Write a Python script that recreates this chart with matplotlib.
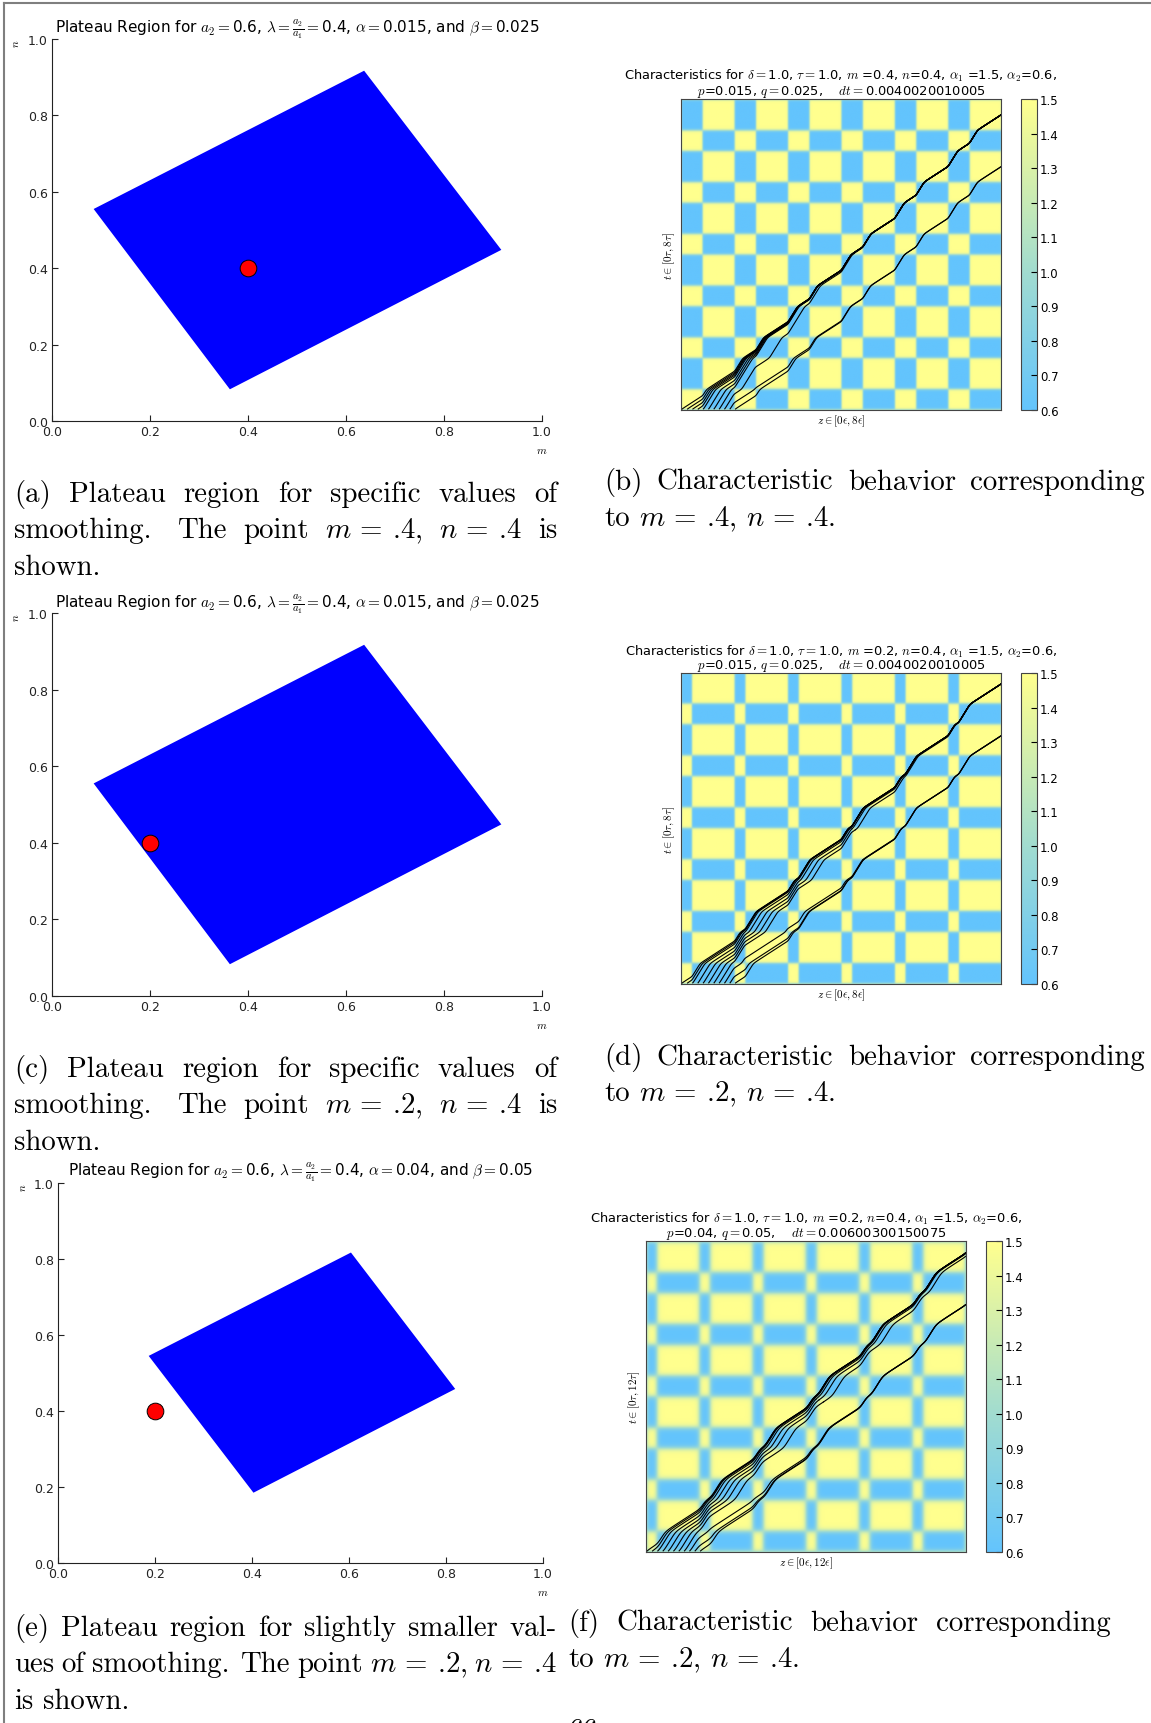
import numpy as np
import matplotlib
matplotlib.use("Agg")
import matplotlib.pyplot as plt
from matplotlib.colors import LinearSegmentedColormap
from matplotlib.lines import Line2D

plt.rcParams['mathtext.fontset'] = 'cm'
plt.rcParams['font.family'] = 'DejaVu Sans'

W, H = 1151, 1724

# plateau regions in the (m, n) plane
plateau_m_ac = [0.085, 0.637, 0.917, 0.363]
plateau_n_ac = [0.555, 0.917, 0.448, 0.083]
plateau_m_e = [0.187, 0.604, 0.819, 0.403]
plateau_n_e = [0.545, 0.817, 0.458, 0.185]
point_a = (0.4, 0.4)
point_c = (0.2, 0.4)
point_e = (0.2, 0.4)

# laminate parameters for the characteristic plots
alpha1, alpha2 = 1.5, 0.6
m_bd = [0.4, 0.2, 0.2]
n_bd = [0.4, 0.4, 0.4]
p_bd = [0.015, 0.015, 0.04]
q_bd = [0.025, 0.025, 0.05]
n_periods = 6
start_z = [0.0, 0.1, 0.2, 0.3, 0.4, 0.5, 0.6, 0.7, 0.8, 0.9, 1.0]
cbar_ticks = [0.6, 0.7, 0.8, 0.9, 1.0, 1.1, 1.2, 1.3, 1.4, 1.5]

fig = plt.figure(figsize=(W / 100, H / 100), dpi=100)


def rect(l, t, r, b):
    return [l / W, 1 - b / H, (r - l) / W, (b - t) / H]


def fx(x):
    return x / W


def fy(y):
    return 1 - y / H


cmap = LinearSegmentedColormap.from_list(
    'laminate', [(0.0, '#63c4fd'), (0.45, '#a2dccf'), (1.0, '#ffff8e')])


def plateau(box, pm, pn, pt, title, title_y):
    ax = fig.add_axes(rect(*box))
    ax.fill(pm, pn, color='#0000ff', lw=0)
    ax.plot([pt[0]], [pt[1]], 'o', ms=12, mfc='red', mec='k', mew=0.7)
    ax.set_xlim(0, 1)
    ax.set_ylim(0, 1)
    ax.set_xticks(np.arange(0, 1.01, 0.2))
    ax.set_yticks(np.arange(0, 1.01, 0.2))
    for s in ('top', 'right'):
        ax.spines[s].set_visible(False)
    for s in ('left', 'bottom'):
        ax.spines[s].set_color('#222222')
    ax.tick_params(direction='in', length=4, labelsize=9, pad=3, colors='#222222')
    ax.set_xlabel('$m$', fontsize=8)
    ax.xaxis.set_label_coords(1.0, -0.062)
    ax.set_ylabel('$n$', fontsize=8, rotation=90)
    ax.yaxis.label.set(ha='center', va='center')
    ax.yaxis.set_label_coords(-0.073, 0.99)
    cx = (box[0] + box[2]) / 2
    fig.text(fx(cx), fy(title_y), title, ha='center', va='baseline', fontsize=11)
    return ax


def band(u, frac, w):
    u = np.mod(u, 1.0)
    s = np.zeros_like(u)
    for a in (-1.0, 0.0, 1.0):
        s += 0.5 * (np.tanh((u - a) / w) - np.tanh((u - a - frac) / w))
    return s


def characteristics(k, box, cbox, titles, title_ys, zlab, tlab):
    z = np.linspace(0, n_periods, 601)
    t = np.linspace(0, n_periods, 601)
    Z, T = np.meshgrid(z, t)
    s = band(Z, m_bd[k], 1.2 * p_bd[k])
    r = band(T, n_bd[k], 1.2 * q_bd[k])
    field = alpha2 + (alpha1 - alpha2) * (s * r + (1 - s) * (1 - r))

    ax = fig.add_axes(rect(*box))
    im = ax.imshow(field, origin='lower', extent=[0, n_periods, 0, n_periods],
                   cmap=cmap, vmin=0.6, vmax=1.5, aspect='auto', interpolation='bilinear')
    pts = np.column_stack([start_z, np.zeros(len(start_z))])
    ax.streamplot(z, t, field, np.ones_like(field), start_points=pts,
                  integration_direction='forward', broken_streamlines=False,
                  density=10, maxlength=20, color='k', linewidth=0.8,
                  arrowstyle='-', arrowsize=0.01)
    ax.set_xlim(0, n_periods)
    ax.set_ylim(0, n_periods)
    ax.set_xticks([])
    ax.set_yticks([])
    for sp in ax.spines.values():
        sp.set_color('#444444')
    ax.set_xlabel(zlab, fontsize=8, labelpad=2)
    ax.set_ylabel(tlab, fontsize=8, labelpad=3)

    cax = fig.add_axes(rect(*cbox))
    cb = fig.colorbar(im, cax=cax, ticks=cbar_ticks)
    cb.ax.set_yticklabels(['%.1f' % v for v in cbar_ticks])
    cb.ax.tick_params(labelsize=8.5, length=4, direction='in', pad=2)
    cb.outline.set_edgecolor('#444444')

    cx = (box[0] + box[2]) / 2
    for txt, y in zip(titles, title_ys):
        fig.text(fx(cx), fy(y), txt, ha='center', va='center', fontsize=9.4)
    return ax


renderer = fig.canvas.get_renderer()


def caption(lines, x0, x1, y0, dy, size):
    em = size * 100 / 72.0
    for i, words in enumerate(lines):
        y = y0 + i * dy
        texts = [fig.text(fx(x0), fy(y), w, family='cmr10', fontsize=size,
                          va='baseline', ha='left') for w in words]
        widths = [tx.get_window_extent(renderer).width for tx in texts]
        last = i == len(lines) - 1
        weights = [1.6 if w.endswith('.') else 1.0 for w in words[:-1]]
        if last or len(words) < 2:
            gaps = [0.333 * em * wt for wt in weights]
        else:
            unit = max((x1 - x0 - sum(widths)) / sum(weights), 0.2 * em)
            gaps = [unit * wt for wt in weights]
        x = x0
        for j, tx in enumerate(texts):
            tx.set_x(fx(x))
            if j < len(gaps):
                x += widths[j] + gaps[j]


title_015 = (r'Plateau Region for $a_2=$0.6, $\lambda=\frac{a_2}{a_1}=$0.4, '
             r'$\alpha=$0.015, and $\beta=$0.025')
title_04 = (r'Plateau Region for $a_2=$0.6, $\lambda=\frac{a_2}{a_1}=$0.4, '
            r'$\alpha=$0.04, and $\beta=$0.05')

plateau((52, 40, 542, 422), plateau_m_ac, plateau_n_ac, point_a, title_015, 33)
plateau((52, 614, 542, 997), plateau_m_ac, plateau_n_ac, point_c, title_015, 608)
plateau((58, 1184, 543, 1564), plateau_m_e, plateau_n_e, point_e, title_04, 1176.5)

characteristics(0, (681, 100, 1001, 411), (1021, 100, 1037, 411),
                [r'Characteristics for $\delta=$1.0, $\tau=$1.0, $m$ =0.4, $n$=0.4, '
                 r'$\alpha_1$ =1.5, $\alpha_2$=0.6,',
                 r'$p$=0.015, $q=$0.025,    $dt=$0.0040020010005'],
                [76, 92], r'$z\in[0\epsilon,8\epsilon]$', r'$t\in[0\tau,8\tau]$')
characteristics(1, (681, 674, 1001, 985), (1021, 674, 1037, 985),
                [r'Characteristics for $\delta=$1.0, $\tau=$1.0, $m$ =0.2, $n$=0.4, '
                 r'$\alpha_1$ =1.5, $\alpha_2$=0.6,',
                 r'$p$=0.015, $q=$0.025,    $dt=$0.0040020010005'],
                [651.5, 666.5], r'$z\in[0\epsilon,8\epsilon]$', r'$t\in[0\tau,8\tau]$')
characteristics(2, (646, 1242, 966, 1553), (986, 1242, 1002, 1553),
                [r'Characteristics for $\delta=$1.0, $\tau=$1.0, $m$ =0.2, $n$=0.4, '
                 r'$\alpha_1$ =1.5, $\alpha_2$=0.6,',
                 r'$p$=0.04, $q=$0.05,    $dt=$0.00600300150075'],
                [1218.5, 1233.5], r'$z\in[0\epsilon,12\epsilon]$', r'$t\in[0\tau,12\tau]$')

cap_size = 20.8
caption([["(a)", "Plateau", "region", "for", "specific", "values", "of"],
         ["smoothing.", "The", "point", r"$m$ = .4,", r"$n$ = .4", "is"],
         ["shown."]], 14, 557, 502, 36.3, cap_size)
caption([["(b)", "Characteristic", "behavior", "corresponding"],
         ["to", r"$m$ = .4,", r"$n$ = .4."]], 604, 1145, 490, 36.3, cap_size)
caption([["(c)", "Plateau", "region", "for", "specific", "values", "of"],
         ["smoothing.", "The", "point", r"$m$ = .2,", r"$n$ = .4", "is"],
         ["shown."]], 14, 557, 1077, 36.3, cap_size)
caption([["(d)", "Characteristic", "behavior", "corresponding"],
         ["to", r"$m$ = .2,", r"$n$ = .4."]], 604, 1145, 1065, 36.3, cap_size)
caption([["(e)", "Plateau", "region", "for", "slightly", "smaller", "val-"],
         ["ues", "of", "smoothing.", "The", "point", r"$m$ = .2,", r"$n$ = .4"],
         ["is", "shown."]], 14, 557, 1636, 36.3, cap_size)
caption([["(f)", "Characteristic", "behavior", "corresponding"],
         ["to", r"$m$ = .2,", r"$n$ = .4."]], 568, 1111, 1631, 36.3, cap_size)

fig.text(fx(583), fy(1718), '66', ha='center', va='top', family='cmr10', fontsize=21)

# page frame
fig.add_artist(Line2D([fx(4), fx(4)], [fy(4), 0], color='#7f7f7f', lw=1.5))
fig.add_artist(Line2D([fx(4), 1], [fy(4), fy(4)], color='#7f7f7f', lw=1.5))

fig.savefig('out.png', dpi=100)
